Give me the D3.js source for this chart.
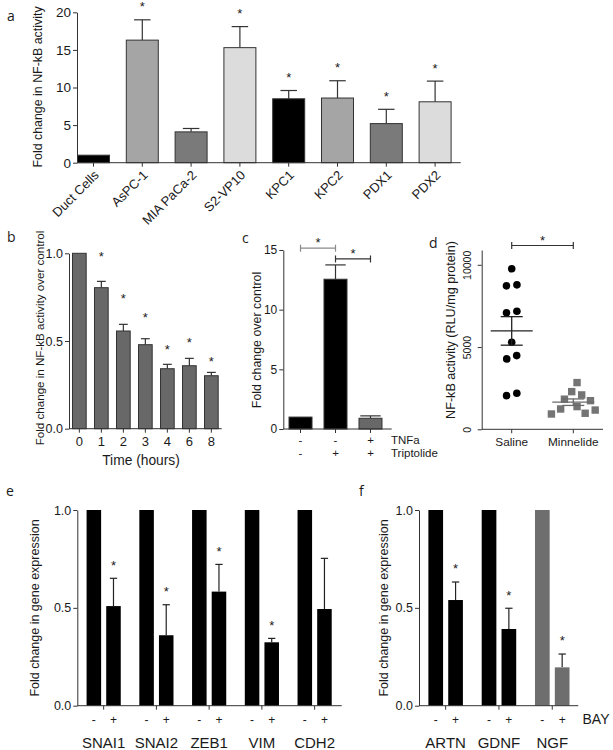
<!DOCTYPE html>
<html><head><meta charset="utf-8">
<script src="https://cdn.jsdelivr.net/npm/d3@7"></script>
<style>
body{margin:0;background:#fff}
svg{display:block}
</style>
</head><body>
<svg id="fig" width="613" height="750"></svg>
<script>
// ---------------- DATA ----------------
// Panel a
const aCategories = ["Duct Cells","AsPC-1","MIA PaCa-2","S2-VP10","KPC1","KPC2","PDX1","PDX2"];
const aValues = [1.0, 16.3, 4.1, 15.3, 8.5, 8.6, 5.2, 8.1];
const aErrTop = [1.0, 19.0, 4.55, 18.1, 9.6, 10.9, 7.1, 10.85];
const aSig = [false, true, false, true, true, true, true, true];
const aTicks = [0, 5, 10, 15, 20];
// Panel b
const bTimes = ["0","1","2","3","4","6","8"];
const bValues = [1.0, 0.804, 0.557, 0.479, 0.342, 0.359, 0.302];
const bErrTop = [1.0, 0.84, 0.595, 0.513, 0.367, 0.401, 0.321];
const bStarLevel = [null, 1.0, 0.76, 0.65, 0.47, 0.51, 0.40];
const bTicks = [0, 0.5, 1.0];
// Panel c
const cGroups = ["ctrl","TNFa","TNFa+Triptolide"];
const cValues = [1.0, 12.55, 0.9];
const cErrTop = [1.0, 13.75, 1.1];
const cRowTNFa = ["-","-","+"];
const cRowTriptolide = ["-","+","+"];
const cRowNames = ["TNFa","Triptolide"];
const cBrackets = [{from:0,to:1,level:15.15},{from:1,to:2,level:14.25}];
const cTicks = [0, 5, 10, 15];
// Panel d
const dGroups = ["Saline","Minnelide"];
const dSaline = [9760, 8720, 8780, 7180, 7080, 5295, 4480, 4280, 2045, 2190];
const dMinnelide = [2290, 2840, 2090, 1830, 1740, 1380, 1170, 1235, 930, 975];
const dBracketLevel = 11175;
const dTicks = [0, 5000, 10000];
// Panel e
const eGenes = ["SNAI1","SNAI2","ZEB1","VIM","CDH2"];
const eControl = [1, 1, 1, 1, 1];
const eTreated = [0.509, 0.36, 0.583, 0.324, 0.494];
const eTreatedErr = [0.651, 0.516, 0.722, 0.344, 0.753];
const eSig = [true, true, true, true, false];
// Panel f
const fGenes = ["ARTN","GDNF","NGF"];
const fControl = [1, 1, 1];
const fTreated = [0.54, 0.392, 0.196];
const fTreatedErr = [0.632, 0.498, 0.264];
const fSig = [true, true, true];
const geneTicks = [0, 0.5, 1.0];
const treatments = ["-","+"];

// ---------------- HELPERS ----------------
const FONT = '"Liberation Sans", Arial, Helvetica, sans-serif';
const AX = "#333";
const TXT = "#1a1a1a";
const svg = d3.select("#fig");

function txt(g, x, y, s, size, anchor) {
  return g.append("text").attr("x", x).attr("y", y).text(s)
    .attr("font-family", FONT).attr("font-size", size).attr("fill", TXT)
    .attr("text-anchor", anchor || "start");
}
function yLeft(g, scale, x, ticks, fmt, size) {
  const ax = g.append("g").attr("transform", `translate(${x},0)`)
    .call(d3.axisLeft(scale).tickValues(ticks).tickFormat(fmt).tickSize(4).tickSizeOuter(0).tickPadding(2));
  ax.attr("font-family", FONT);
  ax.selectAll("path,line").attr("stroke", AX).attr("stroke-width", 1);
  ax.selectAll("text").attr("font-size", size).attr("fill", TXT);
  return ax;
}
function yTitle(g, cx, cy, s, size) {
  g.append("text").attr("transform", `translate(${cx},${cy}) rotate(-90)`)
    .attr("dy", "0.35em").attr("text-anchor", "middle")
    .attr("font-family", FONT).attr("font-size", size).attr("fill", TXT).text(s);
}
function xBase(g, x0, x1, y, tickXs) {
  g.append("line").attr("x1", x0).attr("x2", x1).attr("y1", y).attr("y2", y)
    .attr("stroke", AX).attr("stroke-width", 1);
  g.selectAll(null).data(tickXs).join("line")
    .attr("x1", d => d).attr("x2", d => d).attr("y1", y).attr("y2", y + 4)
    .attr("stroke", AX).attr("stroke-width", 1);
}
function errBar(g, cx, yTop, yEnd, capW, color) {
  g.append("line").attr("x1", cx).attr("x2", cx).attr("y1", yTop).attr("y2", yEnd)
    .attr("stroke", color).attr("stroke-width", 1.2);
  g.append("line").attr("x1", cx - capW / 2).attr("x2", cx + capW / 2).attr("y1", yEnd).attr("y2", yEnd)
    .attr("stroke", color).attr("stroke-width", 1.2);
}
function star(g, cx, cyCenter) {
  txt(g, cx, cyCenter + 7.4, "*", 13, "middle");
}
function panelLetter(x, y, s) {
  svg.append("text").attr("x", x).attr("y", y).text(s)
    .attr("font-family", '"Open Sans", "Liberation Sans", sans-serif').attr("font-size", 14).attr("fill", TXT);
}

// ---------------- PANEL a ----------------
(function() {
  const g = svg.append("g");
  const y = d3.scaleLinear().domain([0, 20]).range([162.7, 12.3]);
  const x = d3.scaleBand().domain(aCategories).range([77, 451.6]).paddingInner(0.324).paddingOuter(0);
  const color = d3.scaleOrdinal().domain(aCategories)
    .range(["#000000","#a5a5a5","#7a7a7a","#dcdcdc","#000000","#a5a5a5","#7a7a7a","#dcdcdc"]);
  const bw = x.bandwidth();
  aCategories.forEach((c, i) => {
    const cx = x(c) + bw / 2;
    if (aErrTop[i] > aValues[i]) errBar(g, cx, y(aValues[i]), y(aErrTop[i]), bw * 0.5, "#333");
  });
  g.selectAll("rect").data(aCategories).join("rect")
    .attr("x", d => x(d) + 0.5).attr("width", bw - 1)
    .attr("y", (d, i) => y(aValues[i])).attr("height", (d, i) => y(0) - y(aValues[i]))
    .attr("fill", d => color(d)).attr("stroke", "#333").attr("stroke-width", 1);
  aCategories.forEach((c, i) => {
    if (aSig[i]) star(g, x(c) + bw / 2, y(aErrTop[i]) - 16);
  });
  xBase(g, 77, 460.7, y(0), aCategories.map(c => x(c) + bw / 2));
  yLeft(g, y, 77, aTicks, d3.format("d"), 13.5);
  aCategories.forEach(c => {
    const cx = x(c) + bw / 2;
    g.append("text").attr("transform", `translate(${cx + 3},${y(0) + 10}) rotate(-45)`)
      .attr("dy", "0.35em").attr("text-anchor", "end")
      .attr("font-family", FONT).attr("font-size", 13).attr("fill", TXT).text(c);
  });
  yTitle(g, 38, 87, "Fold change in NF-kB activity", 12.4);
  panelLetter(7, 21, "a");
})();

// ---------------- PANEL b ----------------
(function() {
  const g = svg.append("g");
  const y = d3.scaleLinear().domain([0, 1]).range([428.7, 253.3]);
  const x = d3.scaleBand().domain(bTimes).range([69, 221.7]).paddingInner(0.332).paddingOuter(0.136);
  const bw = x.bandwidth();
  bTimes.forEach((t, i) => {
    if (bErrTop[i] > bValues[i]) errBar(g, x(t) + bw / 2, y(bValues[i]), y(bErrTop[i]), bw * 0.6, "#333");
  });
  g.selectAll("rect").data(bTimes).join("rect")
    .attr("x", d => x(d) + 0.5).attr("width", bw - 1)
    .attr("y", (d, i) => y(bValues[i])).attr("height", (d, i) => y(0) - y(bValues[i]))
    .attr("fill", "#686868").attr("stroke", "#333").attr("stroke-width", 1);
  bTimes.forEach((t, i) => {
    if (bStarLevel[i] != null) star(g, x(t) + bw / 2, y(bStarLevel[i]));
  });
  xBase(g, 69, 221.7, y(0), bTimes.map(t => x(t) + bw / 2));
  yLeft(g, y, 69, bTicks, d3.format(".1f"), 12.5);
  bTimes.forEach(t => txt(g, x(t) + bw / 2, 446, t, 13, "middle"));
  txt(g, 141, 465, "Time (hours)", 13.8, "middle");
  yTitle(g, 40, 338, "Fold change in NF-kB activity over control", 11.6);
  panelLetter(7, 242, "b");
})();

// ---------------- PANEL c ----------------
(function() {
  const g = svg.append("g");
  const y = d3.scaleLinear().domain([0, 15]).range([429, 250]);
  const x = d3.scaleBand().domain(cGroups).range([283.3, 387.7]).paddingInner(0.314).paddingOuter(0.149);
  const bw = x.bandwidth();
  const fills = ["#000000", "#000000", "#686868"];
  cGroups.forEach((c, i) => {
    if (cErrTop[i] > cValues[i]) errBar(g, x(c) + bw / 2, y(cValues[i]), y(cErrTop[i]), bw * 0.85, "#333");
  });
  g.selectAll("rect").data(cGroups).join("rect")
    .attr("x", d => x(d) + 0.5).attr("width", bw - 1)
    .attr("y", (d, i) => y(cValues[i])).attr("height", (d, i) => y(0) - y(cValues[i]))
    .attr("fill", (d, i) => fills[i]).attr("stroke", "#333").attr("stroke-width", 1);
  const bColors = ["#8a8a8a", "#333"];
  cBrackets.forEach((b, k) => {
    const x1 = x(cGroups[b.from]) + bw / 2, x2 = x(cGroups[b.to]) + bw / 2, yy = y(b.level);
    const col = bColors[k];
    g.append("line").attr("x1", x1).attr("x2", x2).attr("y1", yy).attr("y2", yy).attr("stroke", col).attr("stroke-width", 1.2);
    [x1, x2].forEach(xx => g.append("line").attr("x1", xx).attr("x2", xx).attr("y1", yy - 3.5).attr("y2", yy + 3.5).attr("stroke", col).attr("stroke-width", 1.2));
    star(g, (x1 + x2) / 2, yy - 8.5);
  });
  xBase(g, 283.3, 391.7, y(0), cGroups.map(c => x(c) + bw / 2));
  yLeft(g, y, 283.3, cTicks, d3.format("d"), 12);
  cGroups.forEach((c, i) => {
    txt(g, x(c) + bw / 2, 443.5, cRowTNFa[i], 11.5, "middle");
    txt(g, x(c) + bw / 2, 456.5, cRowTriptolide[i], 11.5, "middle");
  });
  txt(g, 391, 443.5, cRowNames[0], 11.5, "start");
  txt(g, 391, 456.5, cRowNames[1], 11.5, "start");
  yTitle(g, 256.7, 340, "Fold change over control", 12.4);
  panelLetter(242, 243, "c");
})();

// ---------------- PANEL d ----------------
function swarm(values, yScale, D) {
  const order = d3.range(values.length).sort((i, j) => values[j] - values[i]);
  const placed = [];
  const out = new Array(values.length);
  for (const i of order) {
    const yy = yScale(values[i]);
    const forb = [];
    for (const p of placed) {
      const dy = Math.abs(p.y - yy);
      if (dy < D) { const w = Math.sqrt(D * D - dy * dy); forb.push([p.x - w, p.x + w]); }
    }
    const cands = [0]; forb.forEach(f => cands.push(f[0], f[1]));
    cands.sort((a, b) => Math.abs(a) - Math.abs(b) || a - b);
    let xx = 0;
    for (const c of cands) { if (forb.every(f => c <= f[0] + 1e-6 || c >= f[1] - 1e-6)) { xx = c; break; } }
    const p = { x: xx, y: yy, i };
    placed.push(p); out[i] = p;
  }
  const byY = placed.slice().sort((a, b) => a.y - b.y);
  let cluster = [byY[0]];
  const flush = () => {
    const mn = d3.min(cluster, p => p.x), mx = d3.max(cluster, p => p.x);
    const sh = -(mn + mx) / 2; cluster.forEach(p => p.x += sh);
  };
  for (let k = 1; k < byY.length; k++) {
    if (byY[k].y - byY[k - 1].y < D) cluster.push(byY[k]);
    else { flush(); cluster = [byY[k]]; }
  }
  flush();
  return out;
}
(function() {
  const g = svg.append("g");
  const y = d3.scaleLinear().domain([0, 10900]).range([429.3, 250]);
  const x = d3.scalePoint().domain(dGroups).range([481.7, 603.3]).padding(0.487);
  const sets = [dSaline, dMinnelide];
  const cols = ["#000000", "#747474"];
  sets.forEach((vals, k) => {
    const cx = x(dGroups[k]);
    const pos = swarm(vals, y, 10.5);
    const m = d3.mean(vals), sem = d3.deviation(vals) / Math.sqrt(vals.length);
    if (k === 0) {
      g.selectAll(null).data(vals).join("circle")
        .attr("cx", (d, i) => cx + pos[i].x).attr("cy", d => y(d)).attr("r", 3.8).attr("fill", cols[k]);
    } else {
      g.selectAll(null).data(vals).join("rect")
        .attr("x", (d, i) => cx + pos[i].x - 3.7).attr("y", d => y(d) - 3.7)
        .attr("width", 7.4).attr("height", 7.4).attr("fill", cols[k]);
    }
    const lc = k === 0 ? "#222" : "#6a6a6a";
    g.append("line").attr("x1", cx - 21).attr("x2", cx + 21).attr("y1", y(m)).attr("y2", y(m)).attr("stroke", lc).attr("stroke-width", 1.3);
    g.append("line").attr("x1", cx).attr("x2", cx).attr("y1", y(m + sem)).attr("y2", y(m - sem)).attr("stroke", lc).attr("stroke-width", 1.3);
    [m + sem, m - sem].forEach(v => g.append("line").attr("x1", cx - 11).attr("x2", cx + 11).attr("y1", y(v)).attr("y2", y(v)).attr("stroke", lc).attr("stroke-width", 1.3));
  });
  const x1 = x(dGroups[0]), x2 = x(dGroups[1]), yy = y(dBracketLevel);
  g.append("line").attr("x1", x1).attr("x2", x2).attr("y1", yy).attr("y2", yy).attr("stroke", "#333").attr("stroke-width", 1.2);
  [x1, x2].forEach(xx => g.append("line").attr("x1", xx).attr("x2", xx).attr("y1", yy - 3.5).attr("y2", yy + 3.5).attr("stroke", "#333").attr("stroke-width", 1.2));
  star(g, (x1 + x2) / 2, yy - 7.5);
  xBase(g, 481.7, 603, y(0), dGroups.map(d => x(d)));
  const ax = yLeft(g, y, 481.7, dTicks, d3.format("d"), 10.5);
  ax.selectAll(".tick text").attr("x", null).attr("dy", null)
    .attr("text-anchor", "middle").attr("transform", "translate(-11,0) rotate(-90)").attr("y", 0);
  dGroups.forEach(d => txt(g, x(d), 446, d, 11.8, "middle"));
  yTitle(g, 450.7, 330, "NF-kB activity (RLU/mg protein)", 12.6);
  panelLetter(429, 248, "d");
})();

// ---------------- PANELS e & f ----------------
function genePanel(opts) {
  const g = svg.append("g");
  const y = d3.scaleLinear().domain([0, 1]).range([705.7, 510]);
  const x = d3.scaleBand().domain(opts.genes).range([opts.x0, opts.x1]).paddingInner(0).paddingOuter(0);
  const xi = d3.scaleBand().domain(treatments).range([0, x.bandwidth()]).paddingInner(0.26).paddingOuter(0.473);
  const bw = xi.bandwidth();
  const rows = [];
  opts.genes.forEach((gname, i) => {
    rows.push({ gene: gname, t: "-", v: opts.control[i], err: null, sig: false, i });
    rows.push({ gene: gname, t: "+", v: opts.treated[i], err: opts.err[i], sig: opts.sig[i], i });
  });
  rows.forEach(r => {
    if (r.err != null) errBar(g, x(r.gene) + xi(r.t) + bw / 2, y(r.v), y(r.err), bw * 0.5, "#222");
  });
  g.selectAll("rect").data(rows).join("rect")
    .attr("x", r => x(r.gene) + xi(r.t)).attr("width", bw)
    .attr("y", r => y(r.v)).attr("height", r => y(0) - y(r.v))
    .attr("fill", r => opts.color(r.gene));
  rows.forEach(r => { if (r.sig) star(g, x(r.gene) + xi(r.t) + bw / 2, y(r.err) - 16); });
  xBase(g, opts.x0, opts.axisEnd, y(0), opts.genes.map(gn => x(gn) + x.bandwidth() / 2));
  yLeft(g, y, opts.x0, geneTicks, d3.format(".1f"), 12.5);
  rows.forEach(r => txt(g, x(r.gene) + xi(r.t) + bw / 2, 724, r.t, 12, "middle"));
  opts.genes.forEach(gn => txt(g, x(gn) + x.bandwidth() / 2, 747.5, gn, 15, "middle"));
  yTitle(g, opts.titleX, 608, "Fold change in gene expression", 12.5);
  return g;
}
genePanel({ genes: eGenes, control: eControl, treated: eTreated, err: eTreatedErr, sig: eSig,
  x0: 77.3, x1: 341, axisEnd: 341.7, titleX: 35, color: () => "#000" });
const fg = genePanel({ genes: fGenes, control: fControl, treated: fTreated, err: fTreatedErr, sig: fSig,
  x0: 419, x1: 578.9, axisEnd: 578.3, titleX: 383.3,
  color: d3.scaleOrdinal().domain(fGenes).range(["#000", "#000", "#6e6e6e"]) });
txt(fg, 582.5, 724, "BAY", 14, "start");
panelLetter(6, 496, "e");
panelLetter(359, 496, "f");
</script>
</body></html>
